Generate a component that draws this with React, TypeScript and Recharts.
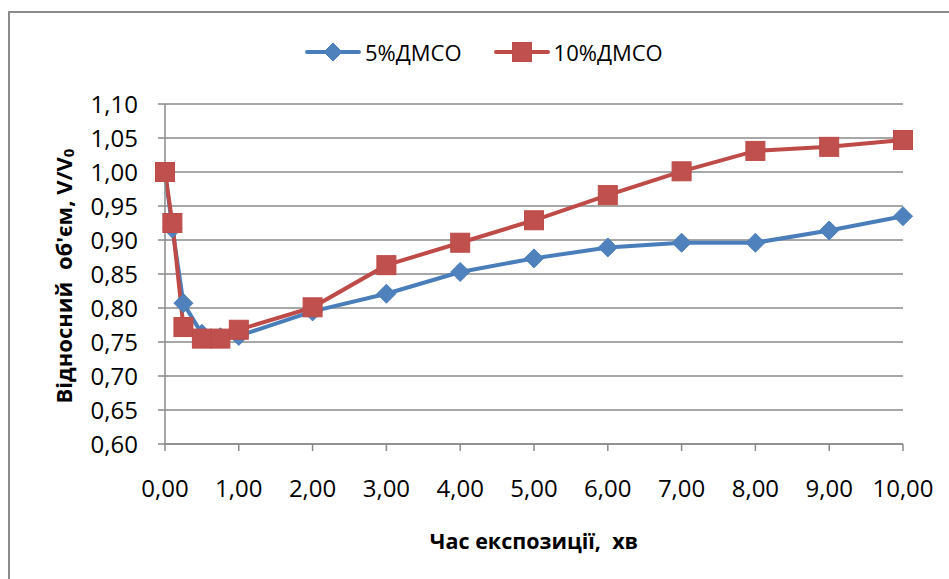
import React from 'react';
import { LineChart, Line, XAxis, YAxis, CartesianGrid } from 'recharts';

const times = [0, 0.1, 0.25, 0.5, 0.75, 1, 2, 3, 4, 5, 6, 7, 8, 9, 10];
const dmso5 = [1.0, 0.917, 0.807, 0.762, 0.757, 0.759, 0.795, 0.821, 0.853, 0.873, 0.889, 0.896, 0.896, 0.914, 0.935];
const dmso10 = [1.0, 0.925, 0.772, 0.755, 0.755, 0.768, 0.801, 0.863, 0.896, 0.929, 0.966, 1.001, 1.031, 1.037, 1.047];
const xTicks = [0, 1, 2, 3, 4, 5, 6, 7, 8, 9, 10];
const yTicks = [0.6, 0.65, 0.7, 0.75, 0.8, 0.85, 0.9, 0.95, 1.0, 1.05, 1.1];
const seriesNames = ['5%ДМСО', '10%ДМСО'];

const data = times.map((t, i) => ({ t, a: dmso5[i], b: dmso10[i] }));

const BLUE = '#4A7EBB';
const BLUE_FILL = '#4F81BD';
const RED = '#BE4B48';
const RED_FILL = '#C0504D';
const FONT = '"Open Sans", "Liberation Sans", sans-serif';

const fmt = (v: number) => v.toFixed(2).replace('.', ',');

const Diamond = (props: any) => {
  const { cx, cy, index } = props;
  if (cx == null || cy == null) return <g key={`d${index}`} />;
  const r = 9.5;
  return (
    <polygon
      key={`d${index}`}
      points={`${cx},${cy - r} ${cx + r},${cy} ${cx},${cy + r} ${cx - r},${cy}`}
      fill={BLUE_FILL}
      stroke={BLUE}
      strokeWidth={1}
    />
  );
};

const Square = (props: any) => {
  const { cx, cy, index } = props;
  if (cx == null || cy == null) return <g key={`s${index}`} />;
  const h = 9.5;
  return (
    <rect
      key={`s${index}`}
      x={cx - h}
      y={cy - h}
      width={h * 2}
      height={h * 2}
      fill={RED_FILL}
      stroke={RED}
      strokeWidth={1}
    />
  );
};

const YTitle = (props: any) => {
  const vb = props.viewBox || {};
  const cx = (vb.x || 0) + 63;
  const cy = (vb.y || 0) + (vb.height || 0) / 2 + 2;
  return (
    <text
      x={cx}
      y={cy}
      transform={`rotate(-90, ${cx}, ${cy})`}
      textAnchor="middle"
      dominantBaseline="central"
      fontFamily={FONT}
      fontWeight="bold"
      fontSize={22}
      fill="#000"
      style={{ whiteSpace: 'pre' }}
    >
      {"Відносний  об'єм, V/V"}
      <tspan fontSize={15} dy={5}>0</tspan>
    </text>
  );
};

const XTitle = (props: any) => {
  const vb = props.viewBox || {};
  const cx = (vb.x || 0) + (vb.width || 0) / 2;
  const y = (vb.y || 0) + 105;
  return (
    <text
      x={cx}
      y={y}
      textAnchor="middle"
      fontFamily={FONT}
      fontWeight="bold"
      fontSize={21.5}
      fill="#000"
      style={{ whiteSpace: 'pre' }}
    >
      {'Час експозиції,  хв'}
    </text>
  );
};

const LegendIcon = ({ kind }: { kind: number }) => (
  <svg width={56} height={20} style={{ display: 'block' }}>
    <line x1={2} y1={10} x2={54} y2={10} stroke={kind === 0 ? BLUE : RED} strokeWidth={4} strokeLinecap="round" />
    {kind === 0 ? (
      <polygon points="28,1 37,10 28,19 19,10" fill={BLUE_FILL} stroke={BLUE} />
    ) : (
      <rect x={18.5} y={0.5} width={19} height={19} fill={RED_FILL} stroke={RED} />
    )}
  </svg>
);

export default function App() {
  return (
    <div style={{ position: 'absolute', left: 0, top: 0, width: 949, height: 579, overflow: 'hidden', background: '#fff' }}>
      <div
        style={{
          position: 'absolute',
          left: 8,
          top: 11,
          width: 1000,
          height: 700,
          borderTop: '2px solid #8c8c8c',
          borderLeft: '2px solid #8c8c8c',
        }}
      />
      <div style={{ position: 'absolute', left: 0, top: 0 }}>
        <LineChart width={949} height={579} data={data} margin={{ top: 104, right: 46, bottom: 0, left: 0 }}>
          <CartesianGrid vertical={false} stroke="#8a8a8a" strokeWidth={1.3} />
          <XAxis
            dataKey="t"
            type="number"
            domain={[0, 10]}
            ticks={xTicks}
            interval={0}
            tickFormatter={fmt}
            height={135}
            stroke="#8a8a8a"
            strokeWidth={1.5}
            tickSize={7}
            tickMargin={29}
            tick={{ fill: '#000', fontSize: 24, fontFamily: FONT }}
            label={<XTitle />}
          />
          <YAxis
            type="number"
            domain={[0.6, 1.1]}
            ticks={yTicks}
            interval={0}
            tickFormatter={fmt}
            width={165}
            stroke="#8a8a8a"
            strokeWidth={1.5}
            tickSize={7}
            tickMargin={20}
            tick={{ fill: '#000', fontSize: 24, fontFamily: FONT }}
            label={<YTitle />}
          />
          <Line
            dataKey="a"
            name={seriesNames[0]}
            stroke={BLUE}
            strokeWidth={4}
            dot={Diamond}
            activeDot={false}
            isAnimationActive={false}
          />
          <Line
            dataKey="b"
            name={seriesNames[1]}
            stroke={RED}
            strokeWidth={4}
            dot={Square}
            activeDot={false}
            isAnimationActive={false}
          />
        </LineChart>
      </div>
      <div
        style={{
          position: 'absolute',
          left: 305,
          top: 36,
          display: 'flex',
          alignItems: 'center',
          fontFamily: FONT,
          fontSize: 22,
          color: '#000',
          lineHeight: '32px',
        }}
      >
        {seriesNames.map((n, i) => (
          <div key={n} style={{ display: 'flex', alignItems: 'center', marginRight: i === 0 ? 32 : 0 }}>
            <LegendIcon kind={i} />
            <span style={{ marginLeft: 4 }}>{n}</span>
          </div>
        ))}
      </div>
    </div>
  );
}
